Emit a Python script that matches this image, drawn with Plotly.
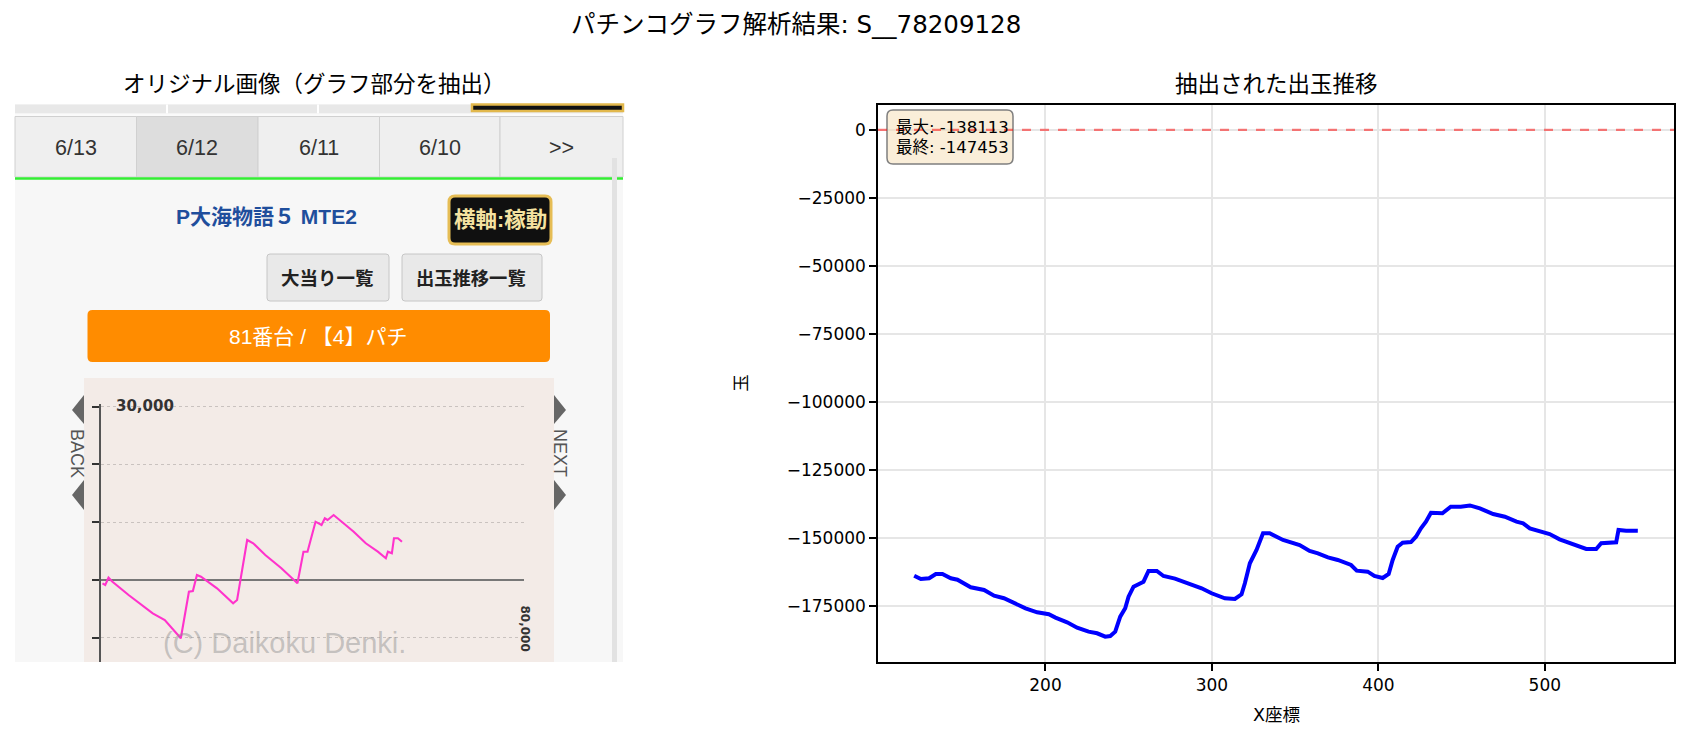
import plotly.graph_objects as go

W, H = 1690, 740
OX, OY = 8, 8            # the page body offsets the figure by 8 px
PW, PH = W - OX, H - OY  # figure size so that it exactly fills the window

# ---------------- data ----------------
# right panel: extracted curve (X pixel vs value)
x_vals = [121.1, 125.1, 130.1, 134.1, 138.1, 143.1, 147.1, 155.1, 163.1, 169.1, 175.0, 181.0, 188.0, 195.0,
          202.0, 206.0, 213.0, 219.0, 225.9, 231.0, 235.9, 238.9, 241.9, 244.9, 247.9, 249.9, 252.9, 258.9,
          261.9, 266.9, 270.9, 277.8, 285.8, 293.8, 299.8, 307.8, 313.8, 317.8, 319.8, 322.8, 326.8, 330.7,
          334.7, 337.7, 342.7, 352.7, 358.7, 363.7, 369.7, 375.6, 383.6, 387.0, 393.6, 397.6, 402.6, 406.2,
          408.6, 411.6, 414.6, 419.6, 422.6, 425.6, 428.6, 431.6, 438.5, 443.5, 449.5, 455.0, 461.0, 469.0,
          476.0, 483.0, 487.0, 491.0, 497.9, 502.9, 508.9, 516.9, 524.9, 530.9, 533.9, 542.9, 544.3, 548.9,
          555.9]
y_vals = [-163950, -165170, -164900, -163330, -163330, -164900, -165420, -168220, -169200, -171300, -172250,
          -174100, -175940, -177400, -178140, -179380, -181080, -183060, -184540, -185130, -186370, -186120,
          -184540, -179030, -175940, -171670, -168000, -166150, -162220, -162220, -164060, -165040, -166750,
          -168580, -170420, -172250, -172520, -170790, -166750, -159400, -154500, -148360, -148360, -149350,
          -150830, -152670, -154870, -155720, -157190, -158180, -160020, -162110, -162480, -164060, -164800,
          -163330, -158180, -153290, -151820, -151560, -149610, -146540, -144100, -140790, -141010, -138580,
          -138580, -138113, -139180, -141270, -142270, -144100, -144690, -146540, -147770, -148630, -150570,
          -152410, -154130, -154130, -152040, -151680, -147150, -147400, -147453]
y_ticks = [0, -25000, -50000, -75000, -100000, -125000, -150000, -175000]
x_ticks = [200, 300, 400, 500]
max_val = -138113
final_val = -147453

# left panel: the pink curve in the screenshot's mini chart (balls vs played)
mini_x = [243, 767, 1384, 2133, 5182, 9747, 12030, 15060, 16594, 17343, 18110, 18877, 21908, 24958, 25706,
          27615, 28756, 31039, 34088, 36352, 37119, 38260, 39027, 40543, 41684, 42302, 42826, 43967, 45483,
          47765, 50048, 52330, 53846, 54239, 54987, 55380, 56128, 56895]
mini_y = [-577, -865, 398, -294, -2595, -5761, -6920, -10087, -2024, -1903, 865, 571, -1436, -4031, -3460,
          6920, 6349, 4325, 2024, 0, -577, 4896, 4896, 10087, 9516, 10675, 10381, 11246, 10087, 8356, 6349,
          4896, 3754, 4896, 4619, 7215, 7215, 6626]
mini_y_ticks = [30000, 20000, 10000, 0, -10000]
tab_labels = ["6/13", "6/12", "6/11", "6/10", ">>"]

TXT = "DejaVu Sans, Noto Sans CJK JP, sans-serif"
WEB = "Liberation Sans, Arial, Noto Sans CJK JP, sans-serif"


def px(x):
    return (x - OX) / PW


def py(y):
    return 1 - (y - OY) / PH


shapes = []
annots = []


def rect(x0, y0, x1, y1, fill, line=None, lw=0, layer="below"):
    shapes.append(dict(type="rect", xref="paper", yref="paper", x0=px(x0), x1=px(x1), y0=py(y1), y1=py(y0),
                       fillcolor=fill, line=dict(color=line or fill, width=lw), layer=layer))


def rrect(x0, y0, x1, y1, r, fill, line=None, lw=0, layer="below"):
    pts = [
        f"M{px(x0 + r)},{py(y0)}", f"L{px(x1 - r)},{py(y0)}", f"Q{px(x1)},{py(y0)} {px(x1)},{py(y0 + r)}",
        f"L{px(x1)},{py(y1 - r)}", f"Q{px(x1)},{py(y1)} {px(x1 - r)},{py(y1)}",
        f"L{px(x0 + r)},{py(y1)}", f"Q{px(x0)},{py(y1)} {px(x0)},{py(y1 - r)}",
        f"L{px(x0)},{py(y0 + r)}", f"Q{px(x0)},{py(y0)} {px(x0 + r)},{py(y0)}", "Z"]
    shapes.append(dict(type="path", xref="paper", yref="paper", path=" ".join(pts), fillcolor=fill,
                       line=dict(color=line or fill, width=lw), layer=layer))


def line(x0, y0, x1, y1, color, width, dash="solid", layer="below"):
    shapes.append(dict(type="line", xref="paper", yref="paper", x0=px(x0), x1=px(x1), y0=py(y0), y1=py(y1),
                       line=dict(color=color, width=width, dash=dash), layer=layer))


def tri(xs, ys, color):
    path = "M" + " L".join(f"{px(a)},{py(b)}" for a, b in zip(xs, ys)) + " Z"
    shapes.append(dict(type="path", xref="paper", yref="paper", path=path, fillcolor=color,
                       line=dict(color=color, width=0), layer="below"))


def text(x, y, s, size, color="#000", family=TXT, angle=0, xanchor="center", yanchor="middle", **kw):
    annots.append(dict(x=px(x), y=py(y), xref="paper", yref="paper", text=s, showarrow=False,
                       font=dict(size=size, color=color, family=family), textangle=angle,
                       xanchor=xanchor, yanchor=yanchor, **kw))


# ---------------- left: screenshot ----------------
IL, IR, IT, IB = 15, 623, 104.5, 662
rect(IL, IT, IR, IB, "#f7f7f7")
# top strip
rect(IL, IT, IR, 113.5, "#e8e8e8")
for xd in [167, 318]:
    line(xd, IT, xd, 113.5, "#ffffff", 2)
rect(472, IT, IR, 111, "#111111", "#e2b84c", 2.5)
rect(IL, 113.5, IR, 116.5, "#fafafa")
# tabs
tab_edges = [IL, 136.5, 258, 379.5, 500, IR]
for i, lab in enumerate(tab_labels):
    fill = "#dddddd" if i == 1 else "#efefef"
    rect(tab_edges[i], 116.5, tab_edges[i + 1], 177, fill, "#d0d0d0", 1)
    text((tab_edges[i] + tab_edges[i + 1]) / 2, 148, lab, 21.5, "#333333", WEB)
line(IL, 178.5, IR, 178.5, "#33ee33", 2.5)
# scrollbar
rect(612, 158, 617, IB, "#e2e2e2")
# machine title
text(266, 216, "<b>P大海物語５ MTE2</b>", 21, "#1f4e9c", WEB)
rrect(449, 196, 551, 244, 6, "#101010", "#e6bd55", 3)
text(500, 220, "<b>横軸:稼動</b>", 21.5, "#f5e2a0", WEB)
rrect(267, 254, 389, 301, 3, "#e9e9e9", "#c6c6c6", 1)
text(327, 278, "<b>大当り一覧</b>", 18.5, "#222222", WEB)
rrect(402, 254, 542, 301, 3, "#e9e9e9", "#c6c6c6", 1)
text(471, 278, "<b>出玉推移一覧</b>", 18.3, "#222222", WEB)
rrect(87.5, 310, 550, 362, 5, "#ff8c00")
text(318.5, 336, "81番台 / 【4】パチ", 21, "#ffffff", WEB)
# mini chart background
rect(84, 378, 554, IB, "#f3ebe7")
# arrows
tri([72, 84, 84], [410, 395, 424], "#666666")
tri([72, 84, 84], [495, 480, 510], "#666666")
tri([566, 554, 554], [410, 395, 424], "#666666")
tri([566, 554, 554], [495, 480, 510], "#666666")
text(77, 453, "BACK", 18, "#555555", WEB, angle=90)
text(560, 453, "NEXT", 18, "#555555", WEB, angle=90)
text(114, 406, "<b>30,000</b>", 15, "#333333", "DejaVu Sans, sans-serif", xanchor="left")
text(525, 628.5, "<b>80,000</b>", 12, "#333333", "DejaVu Sans, sans-serif", angle=90)
text(284.5, 643, "(C) Daikoku Denki.", 29, "rgba(140,140,140,0.45)", WEB)

# ---------------- right: axes decorations ----------------
RL, RR, RT, RB = 878, 1674, 104.5, 662
text(796, 25, "パチンコグラフ解析結果: S__78209128", 24.5)
text(314, 84, "オリジナル画像（グラフ部分を抽出）", 22.5)
text((RL + RR) / 2, 84, "抽出された出玉推移", 22.5)
text(741.5, (RT + RB) / 2, "玉", 17.5, angle=-90)
text((RL + RR) / 2, 715, "X座標", 17.5)
# rounded info box (wheat, semi-transparent)
rrect(887, 110, 1013, 164, 6, "rgba(245,222,179,0.5)", "#7f7f7f", 1.5, layer="above")
text(894, 127.5, f"最大: {max_val}", 16.5, xanchor="left")
text(894, 147.5, f"最終: {final_val}", 16.5, xanchor="left")

fig = go.Figure()
fig.add_trace(go.Scatter(x=x_vals, y=y_vals, mode="lines", line=dict(color="#0000ff", width=4),
                         xaxis="x", yaxis="y", showlegend=False, hoverinfo="skip"))
fig.add_trace(go.Scatter(x=mini_x, y=mini_y, mode="lines", line=dict(color="#ff33cc", width=2.1),
                         xaxis="x2", yaxis="y2", showlegend=False, hoverinfo="skip"))

xmin, xmax = min(x_vals), max(x_vals)
ymin, ymax = min(min(y_vals), 0), max(max(y_vals), 0)
xm, ym = 0.05 * (xmax - xmin), 0.05 * (ymax - ymin)

axis_common = dict(showline=True, linecolor="#000", linewidth=1.5, mirror=True, ticks="outside", ticklen=7,
                   tickwidth=1.5, tickcolor="#000", showgrid=True, gridcolor="#e6e6e6", gridwidth=1.5,
                   zeroline=False, tickfont=dict(family=TXT, size=17, color="#000"))

# mini chart geometry (pixel positions of its axis inside the screenshot)
MX0, MX1 = 101.2, 524.1
M_ZERO, M_PER10K = 580, 57.8
m_lo = -(IB - M_ZERO) / M_PER10K * 10000
m_hi = 30500
m_top_px = M_ZERO - m_hi / 10000 * M_PER10K

fig.update_layout(
    width=PW, height=PH, margin=dict(l=0, r=0, t=0, b=0), paper_bgcolor="#ffffff",
    plot_bgcolor="rgba(0,0,0,0)",
    xaxis=dict(domain=[px(RL), px(RR)], range=[xmin - xm, xmax + xm], tickvals=x_ticks,
               ticktext=[str(v) for v in x_ticks], anchor="y", **axis_common),
    yaxis=dict(domain=[py(RB), py(RT)], range=[ymin - ym, ymax + ym], tickvals=y_ticks,
               ticktext=[str(v).replace("-", "\u2212") for v in y_ticks], anchor="x", **axis_common),
    xaxis2=dict(domain=[px(MX0), px(MX1)], range=[0, 80000], visible=False, anchor="y2"),
    yaxis2=dict(domain=[py(IB), py(m_top_px)], range=[m_lo, m_hi], anchor="x2", tickvals=mini_y_ticks,
                showticklabels=False, ticks="outside", ticklen=7, tickwidth=2, tickcolor="#333",
                showline=True, linecolor="#555", linewidth=2, showgrid=True, gridcolor="#c9c2bf",
                griddash="dot", gridwidth=1.2, zeroline=True, zerolinecolor="#777", zerolinewidth=2),
    shapes=shapes, annotations=annots,
)
fig.add_shape(type="line", xref="x domain", yref="y", x0=0, x1=1, y0=0, y1=0,
              line=dict(color="rgba(255,0,0,0.5)", width=2.2, dash="dash"))

fig.write_html("out.html")
